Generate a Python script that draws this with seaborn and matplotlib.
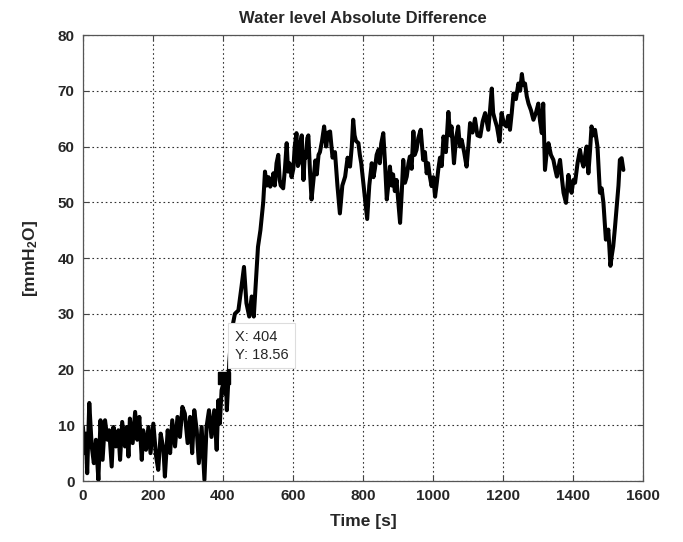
import matplotlib
matplotlib.use("Agg")
import matplotlib.pyplot as plt
import seaborn as sns
import pandas as pd

time_s = [0, 4, 8, 12, 18, 25, 31, 37, 44, 50, 56, 63, 70, 75, 82, 87, 94, 101, 106, 112,
          120, 125, 130, 134, 142, 149, 155, 161, 168, 172, 180, 187, 193, 201, 209, 215, 222, 230, 234, 242,
          249, 255, 263, 270, 277, 284, 291, 299, 306, 312, 318, 325, 331, 339, 347, 353, 360, 367, 375, 382,
          387, 391, 396, 401, 404, 406, 409, 411, 415, 418, 425, 434, 444, 453, 460, 467, 475, 482, 488, 496,
          500, 507, 515, 520, 525, 530, 535, 540, 544, 548, 553, 558, 562, 565, 572, 577, 582, 586, 590, 596,
          601, 605, 610, 614, 617, 621, 625, 630, 634, 637, 641, 644, 649, 653, 657, 660, 664, 668, 673, 677,
          683, 689, 695, 700, 706, 713, 720, 727, 734, 741, 749, 756, 763, 768, 772, 776, 780, 787, 791, 795,
          801, 806, 812, 818, 825, 830, 834, 839, 844, 848, 852, 858, 863, 868, 873, 877, 882, 886, 891, 896,
          901, 906, 911, 915, 920, 925, 930, 934, 939, 944, 948, 953, 958, 965, 972, 977, 982, 986, 990, 996,
          1001, 1006, 1011, 1015, 1020, 1025, 1030, 1037, 1044, 1049, 1053, 1060, 1066, 1072, 1077, 1082, 1089, 1096, 1101, 1106,
          1113, 1120, 1127, 1135, 1142, 1149, 1158, 1163, 1168, 1172, 1177, 1183, 1190, 1196, 1203, 1210, 1215, 1220, 1225, 1230,
          1237, 1244, 1249, 1254, 1258, 1263, 1268, 1273, 1280, 1287, 1294, 1301, 1306, 1311, 1315, 1320, 1325, 1330, 1337, 1344,
          1349, 1354, 1358, 1363, 1368, 1373, 1380, 1387, 1391, 1396, 1401, 1406, 1413, 1420, 1425, 1430, 1435, 1439, 1444, 1449,
          1453, 1458, 1463, 1470, 1477, 1482, 1487, 1494, 1501, 1507, 1511, 1515, 1520, 1525, 1530, 1534, 1539, 1544]

level_mmH2O = [9.7, 5.0, 8.5, 1.4, 14.0, 6.2, 3.2, 7.4, 0.2, 10.9, 3.8, 10.9, 7.4, 9.1, 2.6, 9.7, 6.2, 9.1, 3.8, 10.6,
               6.2, 9.7, 4.4, 11.2, 6.8, 12.4, 7.4, 11.5, 3.8, 9.1, 5.6, 9.7, 5.0, 10.3, 4.4, 2.0, 8.5, 5.6, 0.8, 9.1,
               5.0, 10.9, 6.2, 11.5, 7.9, 13.3, 12.1, 6.8, 11.5, 5.0, 12.7, 9.1, 3.2, 9.7, 0.2, 9.7, 12.7, 7.9, 12.7, 5.6,
               14.5, 10.3, 16.3, 17.5, 18.56, 15.7, 17.0, 12.7, 17.5, 21.4, 27.0, 30.0, 30.6, 34.9, 38.4, 31.9, 29.5, 33.1, 29.5, 37.8,
               42.0, 45.0, 50.0, 55.5, 53.0, 54.5, 52.8, 53.5, 55.2, 53.0, 57.0, 58.5, 54.0, 53.0, 52.5, 56.0, 60.6, 55.5, 57.0, 54.5,
               56.0, 60.0, 62.4, 56.5, 57.0, 60.5, 62.0, 54.0, 59.0, 58.0, 61.5, 62.0, 55.0, 50.5, 53.0, 55.0, 57.5, 55.0, 58.5, 59.0,
               61.0, 63.6, 60.0, 62.5, 62.7, 58.0, 59.0, 53.0, 48.0, 53.0, 54.6, 58.0, 56.4, 60.0, 64.8, 62.0, 61.0, 60.6, 58.5, 57.0,
               53.5, 50.5, 47.0, 53.0, 57.0, 54.5, 56.0, 58.5, 59.4, 57.0, 60.5, 62.4, 57.0, 50.5, 53.5, 56.4, 53.0, 55.0, 52.0, 54.0,
               50.0, 46.3, 52.0, 57.6, 53.5, 54.6, 57.0, 58.2, 56.0, 62.7, 58.5, 59.4, 61.5, 63.0, 57.6, 59.0, 55.2, 57.0, 55.0, 52.9,
               54.5, 51.0, 53.5, 55.8, 58.0, 56.5, 61.8, 59.0, 66.2, 62.0, 63.6, 57.0, 61.5, 63.6, 60.0, 61.2, 59.0, 56.4, 60.0, 64.2,
               62.5, 65.0, 62.0, 61.8, 64.5, 66.0, 63.0, 66.5, 70.4, 66.0, 64.8, 63.5, 60.9, 66.0, 64.0, 63.6, 65.5, 63.0, 66.0, 69.5,
               68.5, 71.3, 70.0, 73.0, 71.0, 71.3, 69.0, 67.7, 66.5, 64.8, 66.0, 67.7, 64.5, 62.4, 67.7, 55.8, 59.0, 60.6, 58.5, 57.6,
               56.0, 54.6, 56.0, 57.6, 54.5, 51.7, 49.9, 54.9, 53.0, 51.7, 54.0, 53.5, 57.0, 59.4, 57.5, 56.4, 58.5, 60.0, 55.2, 59.5,
               63.6, 62.0, 63.0, 60.0, 51.7, 52.5, 49.9, 43.3, 45.1, 38.6, 40.5, 42.1, 45.5, 49.3, 53.0, 57.6, 57.9, 55.8]

tip_x = 404
tip_y = 18.56
x_ticks = [0, 200, 400, 600, 800, 1000, 1200, 1400, 1600]
y_ticks = [0, 10, 20, 30, 40, 50, 60, 70, 80]

df = pd.DataFrame({"Time": time_s, "Level": level_mmH2O})

sns.set_theme(style="white")
plt.rcParams["font.family"] = ["Liberation Sans", "DejaVu Sans"]
plt.rcParams["mathtext.fontset"] = "custom"
plt.rcParams["mathtext.rm"] = "Liberation Sans:bold"
plt.rcParams["mathtext.it"] = "Liberation Sans:bold"
plt.rcParams["mathtext.bf"] = "Liberation Sans:bold"

fig = plt.figure(figsize=(6.83, 5.42), dpi=100)
ax = fig.add_axes([0.1215, 0.1125, 0.8199, 0.8229])

sns.lineplot(data=df, x="Time", y="Level", ax=ax, color="black", linewidth=2.9,
             estimator=None, sort=False)
ax.plot([tip_x], [tip_y], marker="s", color="black", markersize=8, linestyle="none")

ax.set_xlim(0, 1600)
ax.set_ylim(0, 80)
ax.set_xticks(x_ticks)
ax.set_yticks(y_ticks)
ax.set_xticklabels([str(v) for v in x_ticks], fontweight="bold", fontsize=11)
ax.set_yticklabels([str(v) for v in y_ticks], fontweight="bold", fontsize=11)
ax.grid(True, color="#333333", linestyle=(0, (1.5, 2.5)), linewidth=0.8)
ax.tick_params(direction="in", length=4, width=0.8, color="#444444",
               top=True, right=True, bottom=True, left=True, pad=6)
for s in ax.spines.values():
    s.set_color("#555555")
    s.set_linewidth(0.9)

ax.set_title("Water level Absolute Difference", fontweight="bold", fontsize=12, pad=9)
ax.set_xlabel("Time [s]", fontweight="bold", fontsize=12.5, labelpad=8)
ax.set_ylabel("[mmH$_2$O]", fontweight="bold", fontsize=12.5, labelpad=13)

ax.text(tip_x + 30, tip_y + 5.7, f"X: {tip_x}\nY: {tip_y}", fontsize=10.5,
        fontweight="normal", va="center", ha="left", linespacing=1.35, zorder=5,
        bbox=dict(boxstyle="square,pad=0.45", facecolor="white", edgecolor="#dddddd", linewidth=0.8))

fig.savefig("out.png", dpi=100)
